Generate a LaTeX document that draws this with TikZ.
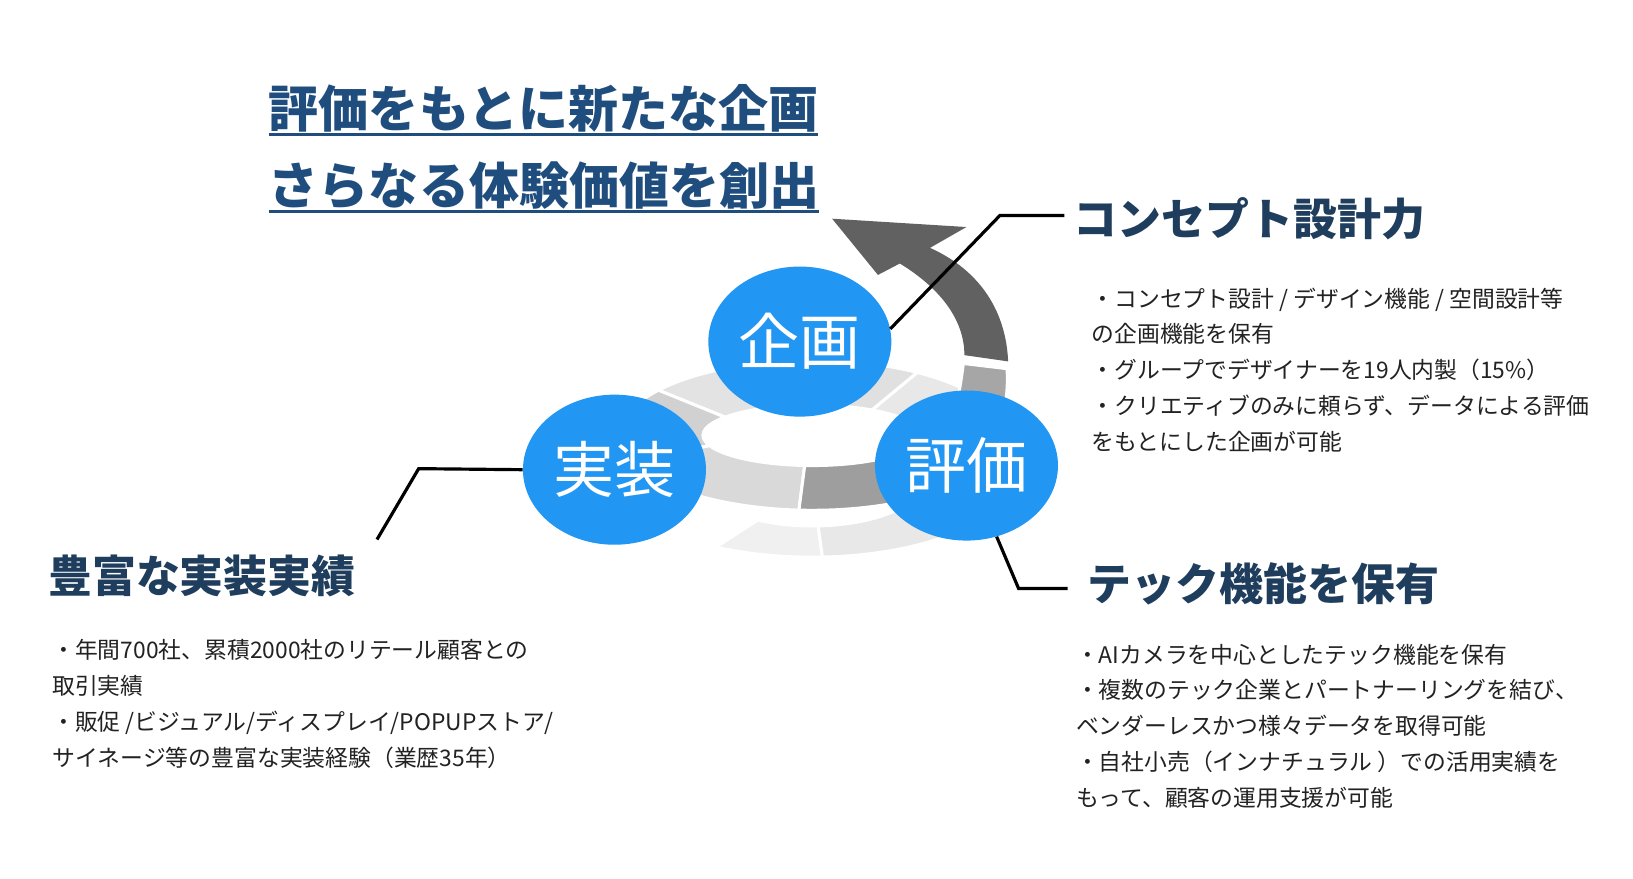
\documentclass[tikz,border=0pt]{standalone}
\usepackage{fontspec}
\setmainfont{Noto Sans CJK JP}
\usetikzlibrary{shapes.geometric,calc}

\definecolor{circblue}{RGB}{33,150,243}
\definecolor{titleblue}{RGB}{31,78,126}
\definecolor{headnavy}{RGB}{31,61,92}
\definecolor{bodygray}{RGB}{34,34,34}

% one piece of the rising ring: colour, start, end, shift, inner radii
\newcommand{\ringseg}[6]{%
  \filldraw[segline, fill=#1]
    plot[domain=#2:#3, samples=30] ({780+185*cos(\x)}, {418-72*sin(\x)+(#4)})
    -- plot[domain=#3:#2, samples=30] ({780+#5*cos(\x)}, {418-#6*sin(\x)+(#4)})
    -- cycle;}

\begin{document}
\begin{tikzpicture}[
  x=0.03cm, y=-0.03cm,
  segline/.style={draw=white, line width=2.5pt, line join=round},
  cyclenode/.style={ellipse, fill=circblue, minimum width=150pt, minimum height=123pt, inner sep=0pt, text=white, font=\fontsize{50pt}{56pt}\selectfont},
  titletext/.style={font=\bfseries\fontsize{41pt}{48pt}\selectfont, text=titleblue, inner sep=0pt, anchor=base west},
  headtext/.style={font=\bfseries\fontsize{36pt}{42pt}\selectfont, text=headnavy, inner sep=0pt, anchor=base west},
  bodytext/.style={font=\fontsize{18.7pt}{29.3pt}\selectfont, text=bodygray, inner sep=0pt, align=left, anchor=north west},
  leader/.style={line width=2.6pt, black},
  uline/.style={line width=2.5pt, titleblue}
]
\fill[white] (0,0) rectangle (1568,844);
\useasboundingbox (0,0) rectangle (1568,844);

% ring, lower turn then upper turn
\ringseg{black!6}{240}{273}{45}{105}{42}
\ringseg{black!9}{273}{320}{45}{105}{42}
\ringseg{black!9}{20}{57}{0}{105}{29}
\ringseg{black!12}{57}{95}{0}{105}{29}
\ringseg{black!11}{95}{143}{0}{105}{29}
\ringseg{black!18}{143}{200}{0}{105}{29}
\ringseg{black!15}{200}{266}{0}{105}{29}
\ringseg{black!38}{266}{330}{0}{105}{29}
\filldraw[segline, fill=black!35] (925,349) -- (967,354) .. controls (968,375) and (966,390) .. (960,410)
  -- (915,400) .. controls (920,385) and (923,365) .. (925,349) -- cycle;
\fill[black!62] (926,341) -- (968,347) .. controls (966,300) and (942,260) .. (893,238)
  -- (928,218) -- (799,210) -- (843,264) -- (864,253)
  .. controls (900,275) and (926,305) .. (926,341) -- cycle;

\node[cyclenode] (kikaku) at (768,328) {企画};
\node[cyclenode] (jisso) at (590,451) {実装};
\node[cyclenode] (hyoka) at (928,447) {評価};

\node[titletext] (title1) at (258,122) {評価をもとに新たな企画};
\node[titletext] (title2) at (258,196) {さらなる体験価値を創出};
\draw[uline] ($(title1.base west)+(0,7)$) -- ($(title1.base east)+(0,7)$);
\draw[uline] ($(title2.base west)+(0,7)$) -- ($(title2.base east)+(0,7)$);

\node[headtext] (head1) at (1031,226) {コンセプト設計力};
\node[headtext] (head2) at (1044,577) {テック機能を保有};
\node[headtext] (head3) at (46,569) {豊富な実装実績};

\node[bodytext] (body1) at (1048,276) {・コンセプト設計 / デザイン機能 / 空間設計等\\の企画機能を保有\\・グループでデザイナーを19人内製（15\%）\\・クリエティブのみに頼らず、データによる評価\\をもとにした企画が可能};
\node[bodytext] (body2) at (1033,618) {・AIカメラを中心としたテック機能を保有\\・複数のテック企業とパートナーリングを結び、\\ベンダーレスかつ様々データを取得可能\\・自社小売（インナチュラル ）での活用実績を\\もって、顧客の運用支援が可能};
\node[bodytext] (body3) at (50,614) {・年間700社、累積2000社のリテール顧客との\\取引実績\\・販促 /ビジュアル/ディスプレイ/POPUPストア/\\サイネージ等の豊富な実装経験（業歴35年）};

\coordinate (k1) at (960,207);
\coordinate (k2) at (1022,207);
\coordinate (h1) at (978,565);
\coordinate (h2) at (1025,565);
\coordinate (j1) at (402,450);
\coordinate (j2) at (362,518);
\draw[leader] (kikaku.8) -- (k1) -- (k2);
\draw[leader] (hyoka.-67) -- (h1) -- (h2);
\draw[leader] (jisso.west) -- (j1) -- (j2);
\end{tikzpicture}
\end{document}
